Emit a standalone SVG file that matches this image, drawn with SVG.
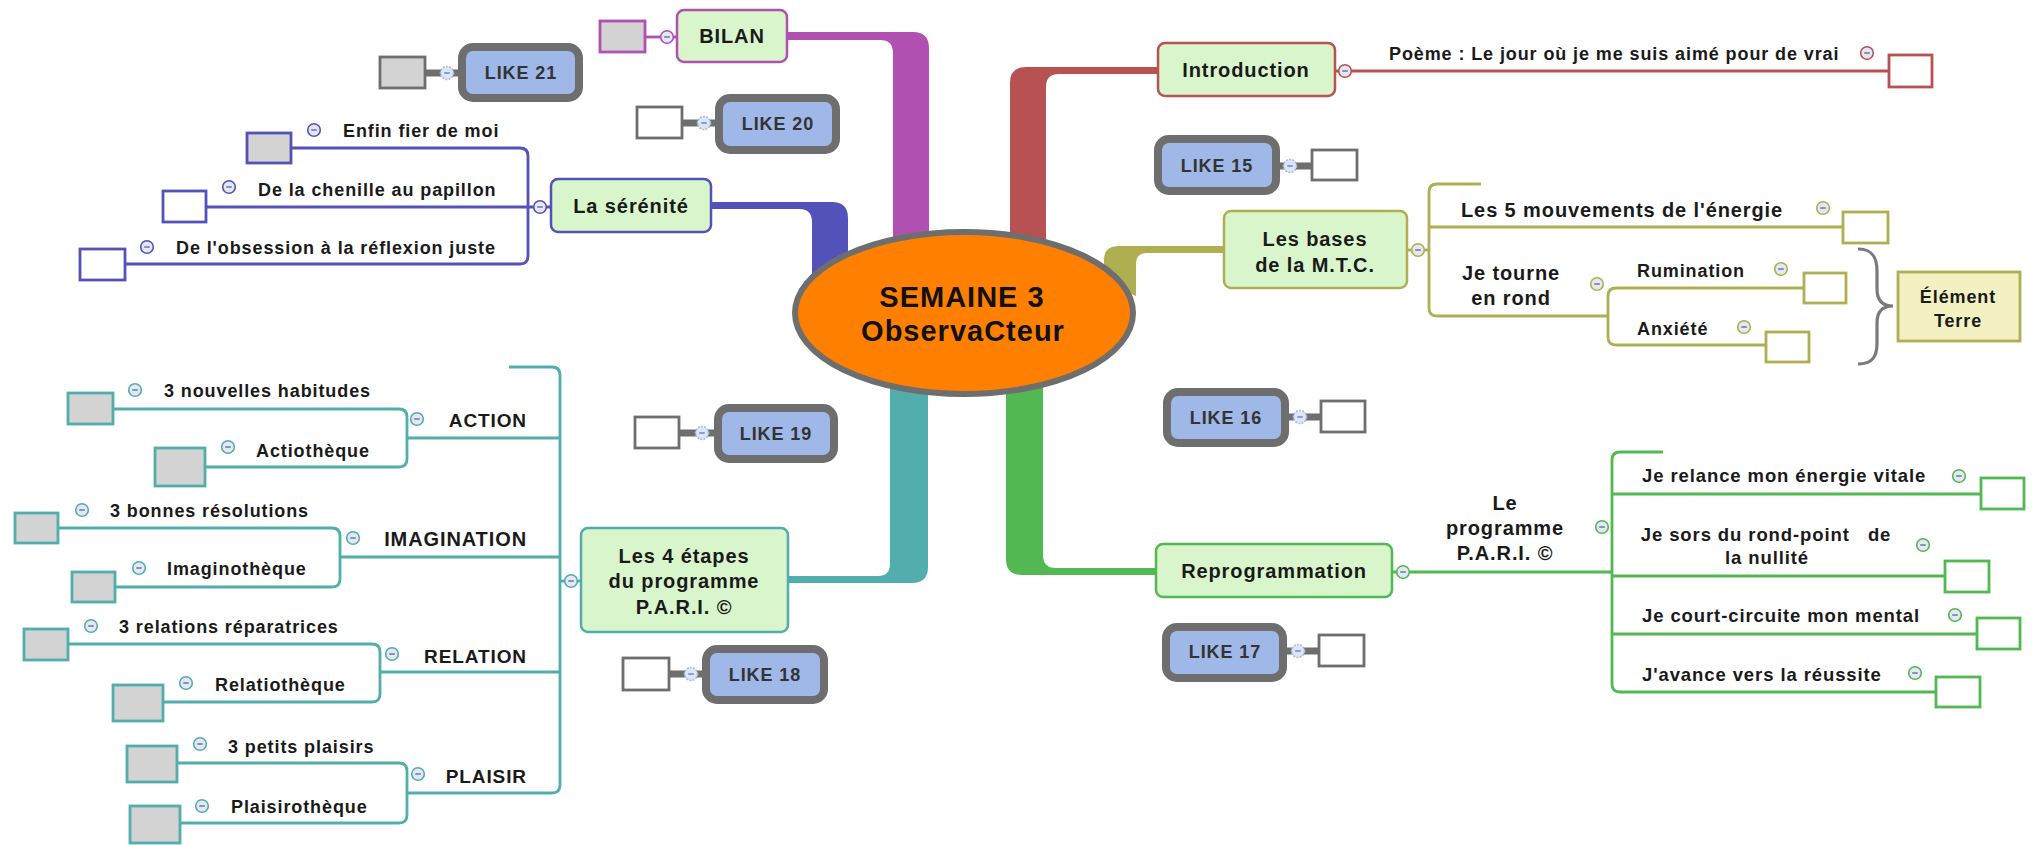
<svg xmlns="http://www.w3.org/2000/svg" xmlns:xlink="http://www.w3.org/1999/xlink" width="2042" height="845" viewBox="0 0 2042 845">
<style>
text{font-family:"Liberation Sans",Arial,sans-serif;font-weight:bold;fill:#1a1a1a;letter-spacing:0.9px}
.t{font-size:18px}
.t2{font-size:18.5px}
.u{font-size:19px}
.n{font-size:20px;text-anchor:middle}
.b{font-size:20px}
.lk{font-size:18px;text-anchor:middle;fill:#333}
.c{font-size:29px;text-anchor:middle;fill:#111;letter-spacing:1px}
.m{text-anchor:middle}
.e{text-anchor:end}
.box{fill:#D8F5CB;stroke-width:2.5}
.like{fill:#A0B8E8;stroke:#6E6E6E;stroke-width:8}
.sq{stroke-width:2.8}
.g{fill:#D3D3D3}
.w{fill:#FFFFFF}
.ln{fill:none;stroke-width:2.8}
.pu{color:#B050B0;stroke:#B050B0}
.rd{color:#B85252;stroke:#B85252}
.bl{color:#5252B8;stroke:#5252B8}
.ol{color:#AFAF52;stroke:#AFAF52}
.te{color:#52ADAD;stroke:#52ADAD}
.gr{color:#52B852;stroke:#52B852}
.gy{stroke:#6E6E6E}
.bar{stroke:#6E6E6E;stroke-width:7}
</style>
<defs>
<g id="cm">
<circle r="6.3" fill="#E6E8F0" stroke="currentColor" stroke-width="1.6"/>
<line x1="-2.8" y1="0" x2="2.8" y2="0" stroke="#5A6AC0" stroke-width="1.4"/>
</g>
<g id="cl">
<circle r="6.5" fill="#DCE6F6" stroke="#A8BCE0" stroke-width="1.6" stroke-dasharray="2 1.2"/>
<line x1="-2.8" y1="0" x2="2.8" y2="0" stroke="#6A7CC8" stroke-width="1.4"/>
</g>
</defs>

<g id="connectors">
<path d="M787,32 H913 Q929,32 929,48 V252 H893 V53 Q893,40 880,40 H787 Z" fill="#B050B0"/>
<path d="M1158,67 H1026 Q1010,67 1010,83 V256 H1046 V87 Q1046,74 1059,74 H1158 Z" fill="#B85252"/>
<path d="M711,202 H832 Q848,202 848,218 V284 H812 V222 Q812,209 799,209 H711 Z" fill="#5252B8"/>
<path d="M1224,246 H1118 Q1104,246 1104,260 V282 L1136,296 V264 Q1136,253 1147,253 H1224 Z" fill="#AFAF52"/>
<path d="M890,370 V564 Q890,576 878,576 H788 V583 H912 Q928,583 928,567 V370 Z" fill="#52ADAD"/>
<path d="M1006,370 V559 Q1006,575 1022,575 H1156 V568 H1056 Q1043,568 1043,555 V370 Z" fill="#52B852"/>

<line class="ln pu" x1="645" y1="37" x2="677" y2="37"/>
<line class="ln rd" x1="1335" y1="71" x2="1889" y2="71"/>
<path class="ln bl" d="M291,148 H520 Q528,148 528,156 V256 Q528,264 520,264 H125"/>
<line class="ln bl" x1="206" y1="207" x2="551" y2="207"/>
<path class="ln ol" d="M1481,184 H1437 Q1429,184 1429,192 V308 Q1429,316 1437,316 H1608"/>
<line class="ln ol" x1="1407" y1="250" x2="1429" y2="250"/>
<line class="ln ol" x1="1429" y1="227" x2="1843" y2="227"/>
<path class="ln ol" d="M1804,288 H1616 Q1608,288 1608,296 V337 Q1608,345 1616,345 H1766"/>
<path class="ln te" d="M509,367 H552 Q560,367 560,375 V785 Q560,793 552,793 H407"/>
<line class="ln te" x1="560" y1="581" x2="581" y2="581"/>
<line class="ln te" x1="560" y1="438" x2="407" y2="438"/>
<path class="ln te" d="M113,409 H399 Q407,409 407,417 V459 Q407,467 399,467 H205"/>
<line class="ln te" x1="560" y1="557" x2="340" y2="557"/>
<path class="ln te" d="M58,528 H332 Q340,528 340,536 V579 Q340,587 332,587 H115"/>
<line class="ln te" x1="560" y1="672" x2="380" y2="672"/>
<path class="ln te" d="M68,644 H372 Q380,644 380,652 V694 Q380,702 372,702 H163"/>
<path class="ln te" d="M177,763 H399 Q407,763 407,771 V815 Q407,823 399,823 H180"/>
<line class="ln gr" x1="1392" y1="572" x2="1612" y2="572"/>
<path class="ln gr" d="M1663,452 H1620 Q1612,452 1612,460 V684 Q1612,692 1620,692 H1936"/>
<line class="ln gr" x1="1612" y1="494" x2="1981" y2="494"/>
<line class="ln gr" x1="1612" y1="576" x2="1945" y2="576"/>
<line class="ln gr" x1="1612" y1="634" x2="1977" y2="634"/>
<line class="bar" x1="425" y1="73" x2="460" y2="73"/>
<line class="bar" x1="682" y1="123" x2="717" y2="123"/>
<line class="bar" x1="1278" y1="166" x2="1312" y2="166"/>
<line class="bar" x1="1287" y1="417" x2="1321" y2="417"/>
<line class="bar" x1="1285" y1="651" x2="1319" y2="651"/>
<line class="bar" x1="679" y1="433" x2="716" y2="433"/>
<line class="bar" x1="669" y1="674" x2="705" y2="674"/>
<path d="M1858,249 C1873,249 1877,258 1877,271 L1877,289 C1877,300 1882,306 1893,306 C1882,306 1877,312 1877,323 L1877,343 C1877,356 1873,364 1858,364" fill="none" stroke="#7A7A7A" stroke-width="3.2"/>
</g>

<g id="center">
<ellipse cx="964" cy="313" rx="169" ry="81" fill="#FF8000" stroke="#6E6E6E" stroke-width="6"/>
<text class="c" x="962" y="307">SEMAINE 3</text>
<text class="c" x="963" y="341">ObservaCteur</text>
</g>

<g id="bilan">
<rect class="box pu" x="677" y="10" width="110" height="52" rx="7"/>
<text class="n" x="732" y="43">BILAN</text>
<rect class="sq g pu" x="600" y="21" width="45" height="31"/>
<use xlink:href="#cm" x="667" y="37" class="pu"/>
</g>

<g id="introduction">
<rect class="box rd" x="1158" y="43" width="177" height="53" rx="7"/>
<text class="n" x="1246" y="77">Introduction</text>
<use xlink:href="#cm" x="1345" y="71" class="rd"/>
</g>
<g id="poeme">
<text class="t" x="1389" y="60">Poème : Le jour où je me suis aimé pour de vrai</text>
<use xlink:href="#cm" x="1867" y="53" class="rd"/>
<rect class="sq w rd" x="1889" y="55" width="43" height="32"/>
</g>

<g id="serenite">
<rect class="box bl" x="551" y="179" width="160" height="53" rx="7"/>
<text class="n" x="631" y="213">La sérénité</text>
<use xlink:href="#cm" x="540" y="207" class="bl"/>
</g>
<g id="fier">
<text class="t" x="343" y="137">Enfin fier de moi</text>
<use xlink:href="#cm" x="314" y="130" class="bl"/>
<rect class="sq g bl" x="247" y="133" width="44" height="30"/>
</g>
<g id="chenille">
<text class="t" x="258" y="196">De la chenille au papillon</text>
<use xlink:href="#cm" x="229" y="187" class="bl"/>
<rect class="sq w bl" x="163" y="191" width="43" height="31"/>
</g>
<g id="obsession">
<text class="t" x="176" y="254">De l'obsession à la réflexion juste</text>
<use xlink:href="#cm" x="147" y="247" class="bl"/>
<rect class="sq w bl" x="80" y="249" width="45" height="31"/>
</g>

<g id="mtc">
<rect class="box ol" x="1224" y="211" width="183" height="77" rx="7"/>
<text class="n" x="1315" y="246">Les bases</text>
<text class="n" x="1315" y="272">de la M.T.C.</text>
<use xlink:href="#cm" x="1418" y="250" class="ol"/>
</g>
<g id="mouvements">
<text class="b" x="1461" y="217">Les 5 mouvements de l'énergie</text>
<use xlink:href="#cm" x="1823" y="208" class="ol"/>
<rect class="sq w ol" x="1843" y="212" width="45" height="31"/>
</g>
<g id="tourne">
<text class="n" x="1511" y="280">Je tourne</text>
<text class="n" x="1511" y="305">en rond</text>
<use xlink:href="#cm" x="1597" y="284" class="ol"/>
</g>
<g id="rumination">
<text class="t" x="1637" y="277">Rumination</text>
<use xlink:href="#cm" x="1781" y="269" class="ol"/>
<rect class="sq w ol" x="1804" y="273" width="42" height="30"/>
</g>
<g id="anxiete">
<text class="t" x="1637" y="335">Anxiété</text>
<use xlink:href="#cm" x="1744" y="327" class="ol"/>
<rect class="sq w ol" x="1766" y="332" width="43" height="30"/>
</g>
<g id="terre">
<rect x="1898" y="272" width="122" height="69" fill="#F3F1C2" stroke="#AFAF52" stroke-width="2.8"/>
<text class="t m" x="1958" y="303">Élément</text>
<text class="t m" x="1958" y="327">Terre</text>
</g>

<g id="etapes">
<rect class="box te" x="581" y="528" width="207" height="104" rx="7"/>
<text class="n" x="684" y="563">Les 4 étapes</text>
<text class="n" x="684" y="588">du programme</text>
<text class="n" x="684" y="614">P.A.R.I. ©</text>
<use xlink:href="#cm" x="571" y="581" class="te"/>
</g>
<g id="action">
<text class="u e" x="527" y="427">ACTION</text>
<use xlink:href="#cm" x="417" y="419" class="te"/>
</g>
<g id="habitudes">
<text class="t" x="164" y="397">3 nouvelles habitudes</text>
<use xlink:href="#cm" x="135" y="390" class="te"/>
<rect class="sq g te" x="68" y="393" width="45" height="31"/>
</g>
<g id="actiotheque">
<text class="t" x="256" y="457">Actiothèque</text>
<use xlink:href="#cm" x="228" y="447" class="te"/>
<rect class="sq g te" x="155" y="448" width="50" height="38"/>
</g>
<g id="imagination">
<text class="b e" x="527" y="546">IMAGINATION</text>
<use xlink:href="#cm" x="353" y="538" class="te"/>
</g>
<g id="resolutions">
<text class="t" x="110" y="517">3 bonnes résolutions</text>
<use xlink:href="#cm" x="82" y="510" class="te"/>
<rect class="sq g te" x="15" y="513" width="43" height="30"/>
</g>
<g id="imaginotheque">
<text class="t" x="167" y="575">Imaginothèque</text>
<use xlink:href="#cm" x="139" y="568" class="te"/>
<rect class="sq g te" x="72" y="572" width="43" height="30"/>
</g>
<g id="relation">
<text class="u e" x="527" y="663">RELATION</text>
<use xlink:href="#cm" x="392" y="654" class="te"/>
</g>
<g id="reparatrices">
<text class="t" x="119" y="633">3 relations réparatrices</text>
<use xlink:href="#cm" x="91" y="626" class="te"/>
<rect class="sq g te" x="24" y="629" width="44" height="31"/>
</g>
<g id="relatiotheque">
<text class="t" x="215" y="691">Relatiothèque</text>
<use xlink:href="#cm" x="186" y="683" class="te"/>
<rect class="sq g te" x="113" y="685" width="50" height="36"/>
</g>
<g id="plaisir">
<text class="u e" x="527" y="783">PLAISIR</text>
<use xlink:href="#cm" x="418" y="774" class="te"/>
</g>
<g id="petits">
<text class="t" x="228" y="753">3 petits plaisirs</text>
<use xlink:href="#cm" x="200" y="744" class="te"/>
<rect class="sq g te" x="127" y="746" width="50" height="36"/>
</g>
<g id="plaisirotheque">
<text class="t" x="231" y="813">Plaisirothèque</text>
<use xlink:href="#cm" x="202" y="806" class="te"/>
<rect class="sq g te" x="130" y="806" width="50" height="37"/>
</g>

<g id="reprogrammation">
<rect class="box gr" x="1156" y="544" width="236" height="53" rx="7"/>
<text class="n" x="1274" y="578">Reprogrammation</text>
<use xlink:href="#cm" x="1403" y="572" class="gr"/>
</g>
<g id="programme">
<text class="n" x="1505" y="510">Le</text>
<text class="n" x="1505" y="535">programme</text>
<text class="n" x="1505" y="560">P.A.R.I. ©</text>
<use xlink:href="#cm" x="1602" y="527" class="gr"/>
</g>
<g id="relance">
<text class="t2" x="1642" y="482">Je relance mon énergie vitale</text>
<use xlink:href="#cm" x="1959" y="476" class="gr"/>
<rect class="sq w gr" x="1981" y="478" width="43" height="31"/>
</g>
<g id="rondpoint">
<text class="t2 m" x="1766" y="541" xml:space="preserve">Je sors du rond-point   de</text>
<text class="t2 m" x="1767" y="564">la nullité</text>
<use xlink:href="#cm" x="1923" y="545" class="gr"/>
<rect class="sq w gr" x="1945" y="561" width="44" height="31"/>
</g>
<g id="courtcircuite">
<text class="t2" x="1642" y="622">Je court-circuite mon mental</text>
<use xlink:href="#cm" x="1955" y="615" class="gr"/>
<rect class="sq w gr" x="1977" y="618" width="43" height="31"/>
</g>
<g id="reussite">
<text class="t2" x="1642" y="681">J'avance vers la réussite</text>
<use xlink:href="#cm" x="1915" y="673" class="gr"/>
<rect class="sq w gr" x="1936" y="677" width="44" height="30"/>
</g>

<g id="like21">
<rect class="like" x="462" y="47" width="117" height="51" rx="11"/>
<text class="lk" x="521" y="79">LIKE 21</text>
<rect class="sq g gy" x="380" y="57" width="45" height="31"/>
<use xlink:href="#cl" x="447" y="73"/>
</g>
<g id="like20">
<rect class="like" x="719" y="98" width="117" height="52" rx="11"/>
<text class="lk" x="778" y="130">LIKE 20</text>
<rect class="sq w gy" x="637" y="107" width="45" height="31"/>
<use xlink:href="#cl" x="704" y="123"/>
</g>
<g id="like15">
<rect class="like" x="1158" y="139" width="118" height="52" rx="11"/>
<text class="lk" x="1217" y="172">LIKE 15</text>
<rect class="sq w gy" x="1312" y="150" width="45" height="30"/>
<use xlink:href="#cl" x="1290" y="166"/>
</g>
<g id="like16">
<rect class="like" x="1167" y="392" width="118" height="51" rx="11"/>
<text class="lk" x="1226" y="424">LIKE 16</text>
<rect class="sq w gy" x="1321" y="401" width="44" height="31"/>
<use xlink:href="#cl" x="1300" y="417"/>
</g>
<g id="like17">
<rect class="like" x="1166" y="627" width="117" height="51" rx="11"/>
<text class="lk" x="1225" y="658">LIKE 17</text>
<rect class="sq w gy" x="1319" y="635" width="45" height="31"/>
<use xlink:href="#cl" x="1298" y="651"/>
</g>
<g id="like19">
<rect class="like" x="718" y="408" width="116" height="51" rx="11"/>
<text class="lk" x="776" y="440">LIKE 19</text>
<rect class="sq w gy" x="635" y="417" width="44" height="31"/>
<use xlink:href="#cl" x="702" y="433"/>
</g>
<g id="like18">
<rect class="like" x="706" y="649" width="118" height="51" rx="11"/>
<text class="lk" x="765" y="681">LIKE 18</text>
<rect class="sq w gy" x="623" y="658" width="46" height="32"/>
<use xlink:href="#cl" x="691" y="674"/>
</g>
</svg>
